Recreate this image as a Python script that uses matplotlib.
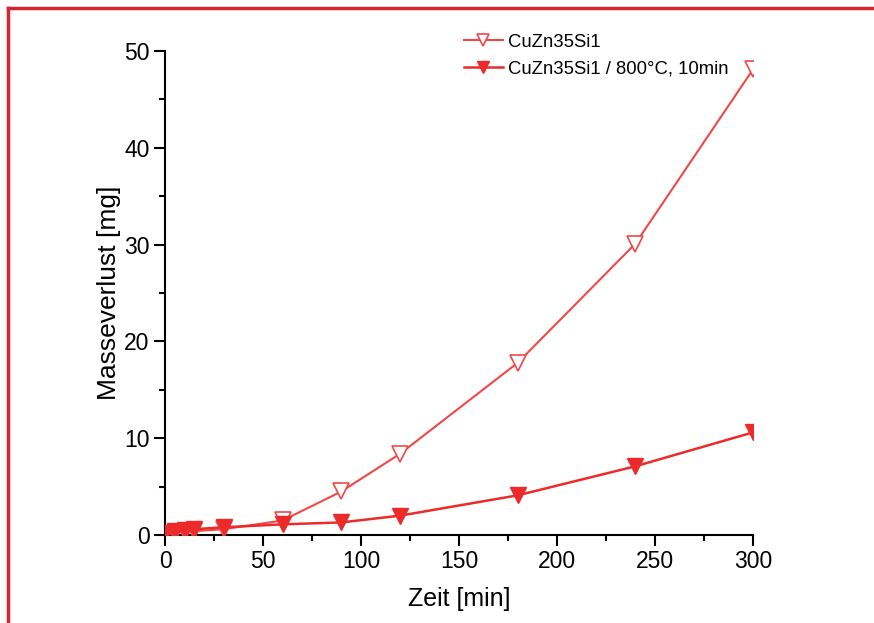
import matplotlib
matplotlib.use("Agg")
import matplotlib.pyplot as plt
from matplotlib.lines import Line2D
from matplotlib.ticker import MultipleLocator

plt.rcParams['font.family'] = ['Liberation Sans', 'DejaVu Sans']

zeit = [0, 5, 10, 15, 30, 60, 90, 120, 180, 240, 300]
verlust_roh = [0.1, 0.2, 0.3, 0.4, 0.6, 1.5, 4.5, 8.4, 17.8, 30.1, 48.1]
verlust_800 = [0.2, 0.4, 0.5, 0.6, 0.8, 1.1, 1.3, 2.0, 4.1, 7.1, 10.6]
label_roh = "CuZn35Si1"
label_800 = "CuZn35Si1 / 800°C, 10min"

W, H = 874, 623
fig = plt.figure(figsize=(W / 100, H / 100), dpi=100)
ax = fig.add_axes([165 / W, 1 - 535 / H, (753 - 165) / W, (535 - 51) / H])

c_open = '#f04848'
c_fill = '#ec2a2a'
ax.plot(zeit, verlust_roh, color=c_open, lw=1.5, marker='v', ms=12,
        mfc='white', mec=c_open, mew=1.2, label=label_roh, zorder=3)
ax.plot(zeit, verlust_800, color=c_fill, lw=1.8, marker='v', ms=12,
        mfc=c_fill, mec=c_fill, label=label_800, zorder=4)

ax.set_xlim(0, 300)
ax.set_ylim(0, 50)
ax.xaxis.set_major_locator(MultipleLocator(50))
ax.xaxis.set_minor_locator(MultipleLocator(25))
ax.yaxis.set_major_locator(MultipleLocator(10))
ax.yaxis.set_minor_locator(MultipleLocator(5))
for s in ['top', 'right']:
    ax.spines[s].set_visible(False)
for s in ['left', 'bottom']:
    ax.spines[s].set_linewidth(1.5)
ax.tick_params(which='major', direction='out', length=8, width=1.5, labelsize=16.5, pad=3)
ax.tick_params(which='minor', direction='out', length=4.5, width=1.5)
for sp in ax.spines.values():
    sp.set_clip_on(False)

ax.set_xlabel("Zeit [min]", fontsize=18, labelpad=10)
ax.set_ylabel("Masseverlust [mg]", fontsize=19, labelpad=2)

leg = ax.legend(loc='upper left', bbox_to_anchor=(0.48, 1.07), frameon=False,
                fontsize=13.3, handlelength=2.1, handletextpad=0.3,
                labelspacing=0.55, markerscale=0.75)

# red frame (left & top)
fig.add_artist(Line2D([7.5 / W, 7.5 / W], [0, 1 - 8 / H], color='#d8262e', lw=2.5,
                      transform=fig.transFigure))
fig.add_artist(Line2D([7.5 / W, 1], [1 - 8 / H, 1 - 8 / H], color='#d8262e', lw=2.5,
                      transform=fig.transFigure))

fig.savefig("out.png", dpi=100)
